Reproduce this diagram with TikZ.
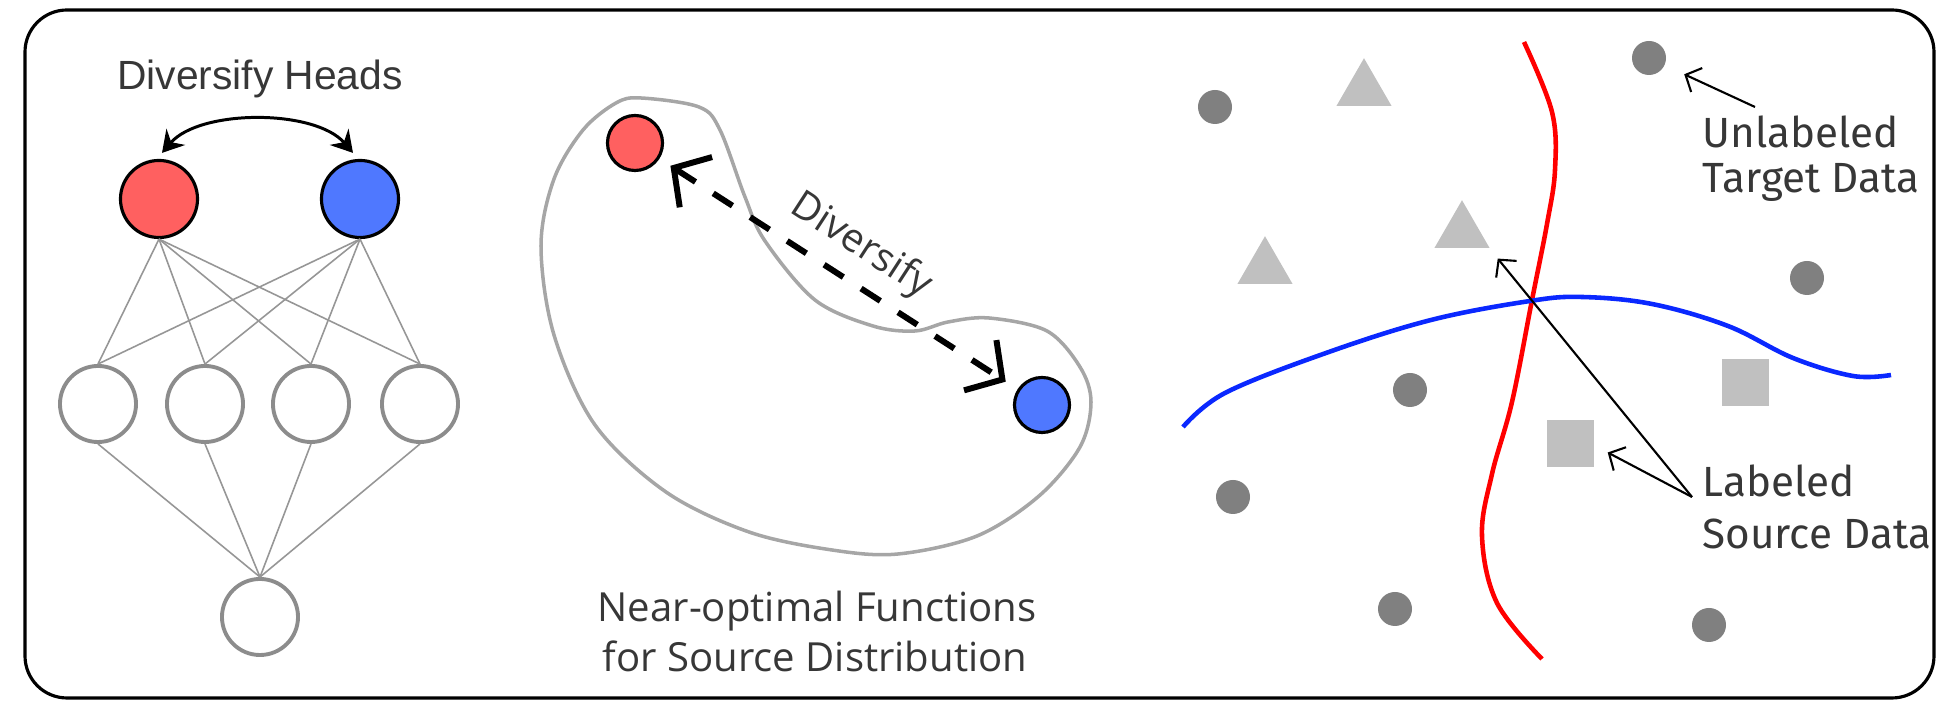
\documentclass[tikz,border=0pt]{standalone}
\usepackage{fontspec}
\usetikzlibrary{arrows.meta,shapes.geometric}
\newfontfamily\headfont{Liberation Sans}
\newfontfamily\midfont{Open Sans}
\newfontfamily\datafont{Fira Sans}
\definecolor{headred}{RGB}{255,96,96}
\definecolor{headblue}{RGB}{79,120,255}
\definecolor{unitgray}{RGB}{140,140,140}
\definecolor{wiregray}{RGB}{150,150,150}
\definecolor{blobgray}{RGB}{166,166,166}
\definecolor{dotgray}{RGB}{128,128,128}
\definecolor{srcgray}{RGB}{192,192,192}
\definecolor{txtgray}{RGB}{55,55,55}
\definecolor{redline}{RGB}{255,0,0}
\definecolor{blueline}{RGB}{10,40,255}
\begin{document}
\begin{tikzpicture}[x=0.01cm,y=-0.01cm,
  head/.style={circle,draw=black,line width=0.9pt,minimum size=0.77cm,inner sep=0pt},
  unit/.style={circle,draw=unitgray,line width=1.1pt,minimum size=0.76cm,inner sep=0pt},
  wire/.style={draw=wiregray,line width=0.45pt},
  fnpt/.style={circle,draw=black,line width=0.9pt,minimum size=0.55cm,inner sep=0pt},
  tgt/.style={circle,fill=dotgray,minimum size=0.34cm,inner sep=0pt},
  srctri/.style={regular polygon,regular polygon sides=3,fill=srcgray,minimum size=0.635cm,inner sep=0pt},
  srcsq/.style={rectangle,fill=srcgray,minimum size=0.47cm,inner sep=0pt},
  ptr/.style={-{Straight Barb[length=3.5pt,width=7.5pt]},line width=0.6pt},
  lbl/.style={inner sep=0pt,text=txtgray},
  datalbl/.style={lbl,anchor=base west,font=\datafont\fontsize{12}{14}\selectfont},
  midlbl/.style={lbl,anchor=base,font=\midfont\fontsize{11.4}{13}\selectfont}]
\useasboundingbox (0,0) rectangle (1938,701);
\draw[line width=0.9pt,rounded corners=0.42cm] (25,10) rectangle (1934,698);

% network with two heads
\node[lbl,anchor=base,font=\headfont\fontsize{11.6}{14}\selectfont] (dh) at (260,90) {Diversify Heads};
\node[head,fill=headred] (hr) at (159,199) {};
\node[head,fill=headblue] (hb) at (360,199) {};
\foreach \i/\x in {1/98,2/205,3/311,4/420}
  \node[unit] (u\i) at (\x,404) {};
\node[unit] (out) at (260,617) {};
\foreach \i in {1,...,4} {
  \draw[wire] (hr.south) -- (u\i.north);
  \draw[wire] (hb.south) -- (u\i.north);
  \draw[wire] (u\i.south) -- (out.north);
}
\draw[line width=0.85pt,{Stealth[length=6pt,width=7pt,inset=2pt]}-{Stealth[length=6pt,width=7pt,inset=2pt]}]
  ([shift={(3,-6)}]hr.north) .. controls +(38,-44) and +(-38,-44) .. ([shift={(-7,-6)}]hb.north);

% near-optimal functions
\draw[draw=blobgray,line width=1pt] plot[smooth cycle,tension=0.55] coordinates {
  (641,98) (699,107) (720,130) (745,197) (765,241) (815,300) (873,326) (915,331)
  (948,322) (989,318) (1047,331) (1080,367) (1091,402) (1080,447) (1039,496)
  (977,536) (898,554) (832,550) (749,532) (666,492) (595,425) (554,335)
  (541,246) (554,179) (583,130) (616,103)};
\node[fnpt,fill=headred] (fr) at (635,143) {};
\node[fnpt,fill=headblue] (fb) at (1042,405) {};
\draw[line width=1.7pt,dash pattern=on 6.5pt off 6pt,shorten <=0.13cm,shorten >=0.14cm,
  {Straight Barb[length=7.5pt,width=17pt]}-{Straight Barb[length=7.5pt,width=17pt]}] (fr) -- (fb);
\node[lbl,rotate=-33,font=\midfont\fontsize{11.2}{13}\selectfont] (dv) at (861,246) {Diversify};
\node[midlbl] (nf1) at (817,622) {Near-optimal Functions};
\node[midlbl] (nf2) at (815,672) {for Source Distribution};

% source and target data
\draw[redline,line width=1.3pt] plot[smooth,tension=0.6] coordinates {
  (1524,42) (1552,112) (1555,170) (1547,224) (1532,300) (1512,402)
  (1492,474) (1482,536) (1497,603) (1542,659)};
\draw[blueline,line width=1.3pt] plot[smooth,tension=0.6] coordinates {
  (1183,427) (1225,393) (1326,353) (1431,320) (1530,301) (1582,297)
  (1652,304) (1728,326) (1793,358) (1853,376) (1891,375)};
\node[tgt] (t1) at (1215,107) {};
\node[tgt] (t2) at (1649,58) {};
\node[tgt] (t3) at (1807,278) {};
\node[tgt] (t4) at (1410,390) {};
\node[tgt] (t5) at (1233,497) {};
\node[tgt] (t6) at (1395,609) {};
\node[tgt] (t7) at (1709,625) {};
\node[srctri] (s1) at (1364,90) {};
\node[srctri] (s2) at (1462,232) {};
\node[srctri] (s3) at (1265,268) {};
\node[srcsq] (s4) at (1745.5,382.5) {};
\node[srcsq] (s5) at (1570.5,443.5) {};
\node[datalbl] (ul1) at (1702,148) {Unlabeled};
\node[datalbl] (ul2) at (1702,193) {Target Data};
\node[datalbl] (lb1) at (1702,497) {Labeled};
\node[datalbl] (lb2) at (1702,549) {Source Data};
\coordinate (ulptr) at (1755,107);
\coordinate (lbptr) at (1692,497);
\draw[ptr,shorten >=6pt] (ulptr) -- (t2);
\draw[ptr] (lbptr) -- ([shift={(7,10)}]s2.corner 3);
\draw[ptr] (lbptr) -- ([shift={(13,9)}]s5.east);
\end{tikzpicture}
\end{document}
